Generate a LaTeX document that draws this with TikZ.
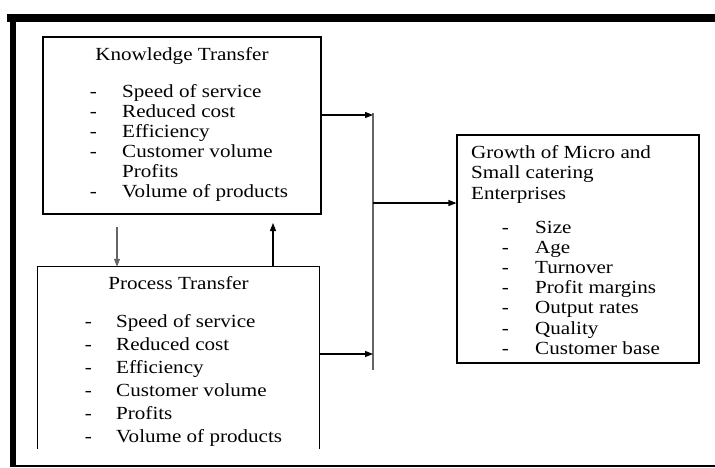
\documentclass[tikz,border=0pt]{standalone}
\usepackage{fontspec}
\setmainfont{Liberation Serif}[FakeStretch=1.14]
\usetikzlibrary{arrows.meta}

\begin{document}
\begin{tikzpicture}[x=1pt,y=-1pt,
    every node/.style={font=\fontsize{18.5}{20}\selectfont,inner sep=0pt},
    box/.style={draw,line width=1.1pt},
    arr/.style={line width=1.1pt,-{Triangle[length=8pt,width=6pt]}}]
  \useasboundingbox (0,0) rectangle (715,467);
  % frame
  \draw[line width=8pt] (7,18) -- (715,18);
  \draw[line width=6pt] (13,14) -- (13,467);
  \draw[line width=1.2pt] (10,466) -- (715,466);
  % boxes
  \node[box,minimum width=278,minimum height=177] (know) at (182,125.5) {};
  \node[minimum width=281,minimum height=182] (proc) at (178.5,358) {};
  \draw[line width=1.1pt] (proc.south west) -- (proc.north west)
    -- (proc.north east) -- (proc.south east);
  \node[box,minimum width=242,minimum height=228] (grow) at (578,249) {};
  % knowledge transfer
  \node[anchor=base] (ktitle) at (182,60) {Knowledge Transfer};
  \foreach \t [count=\i] in {Speed of service,Reduced cost,Efficiency,
      Customer volume,Profits,Volume of products}
    \node[anchor=base west] (k\i) at (122,77+20*\i) {\t};
  \foreach \i in {1,2,3,4,6}
    \node[anchor=base] (kd\i) at (93.5,77+20*\i) {-};
  % process transfer
  \node[anchor=base] (ptitle) at (178.5,289) {Process Transfer};
  \foreach \t [count=\i] in {Speed of service,Reduced cost,Efficiency,
      Customer volume,Profits,Volume of products}
    \node[anchor=base west] (p\i) at (116,303.9+23.1*\i) {\t};
  \foreach \i in {1,...,6}
    \node[anchor=base] (pd\i) at (88.5,303.9+23.1*\i) {-};
  % growth
  \foreach \t [count=\i] in {Growth of Micro and,Small catering,Enterprises}
    \node[anchor=base west] (g\i) at (471,137.5+20.5*\i) {\t};
  \foreach \t [count=\i] in {Size,Age,Turnover,Profit margins,
      Output rates,Quality,Customer base}
    \node[anchor=base west] (gi\i) at (535,212.8+20.2*\i) {\t};
  \foreach \i in {1,...,7}
    \node[anchor=base] (gd\i) at (505.5,212.8+20.2*\i) {-};
  % bar and arrows
  \coordinate (bartop) at (373,113);
  \coordinate (barbot) at (373,370);
  \coordinate (dtop) at (117,227);
  \coordinate (utop) at (273,223);
  \draw[line width=1.8pt,black!60] (bartop) -- (barbot);
  \draw[arr] (know.east |- 0,115) -- (bartop |- 0,115);
  \draw[arr] (proc.east |- 0,354) -- (barbot |- 0,354);
  \draw[arr] (bartop |- 0,203) -- (grow.west |- 0,203);
  \draw[arr,black!60] (dtop) -- (dtop |- proc.north);
  \draw[arr] (utop |- proc.north) -- (utop);
\end{tikzpicture}
\end{document}
